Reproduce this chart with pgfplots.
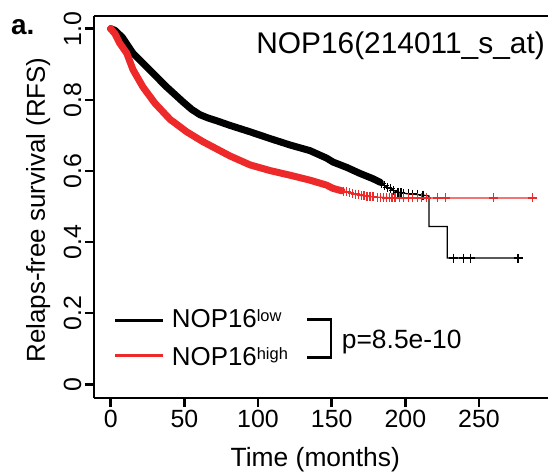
\documentclass[border=0pt]{standalone}
\usepackage{fontspec}
\setmainfont{Liberation Sans}
\usepackage{pgfplots}
\pgfplotsset{compat=1.18}
\definecolor{kmred}{RGB}{237,41,41}
\begin{document}
\begin{tikzpicture}
\useasboundingbox (-94bp,-76bp) rectangle (454bp,398bp);
\begin{axis}[
  at={(0,0)}, anchor=south west,
  scale only axis, width=456bp, height=382bp,
  xmin=-11.34, xmax=298.2, ymin=-0.0385, ymax=1.0357,
  axis x line*=box, axis y line*=left,
  axis line style={line width=2.5bp, -},
  every tick/.style={line width=2.5bp, black},
  major tick length=9bp,
  tick align=outside,
  xtick={0,50,100,150,200,250},
  ytick={0,0.2,0.4,0.6,0.8,1},
  yticklabels={0,0.2,0.4,0.6,0.8,1.0},
  xtick pos=bottom, ytick pos=left,
  /pgf/number format/assume math mode=true,
  tick label style={font=\fontsize{25}{25}\selectfont},
  yticklabel style={rotate=90, anchor=south},
  clip=false,
]
% low (black)
\addplot[black, line width=7bp, line join=round, line cap=round] coordinates {
(0,1.0) (3,0.995) (8,0.975) (15.1,0.931) (26.7,0.883) (38.0,0.836) (49.1,0.794)
(55,0.773) (60.6,0.758) (66,0.749) (72.0,0.741) (81.0,0.728) (94.6,0.710) (108.2,0.691)
(121.7,0.673) (135.3,0.657) (146.6,0.636) (150.9,0.625) (160.2,0.610)
(169.2,0.593) (178.1,0.578) (183,0.568)};
\addplot[black, line width=1.3bp] coordinates {
(183,0.568) (187.4,0.555) (194.2,0.541) (201.0,0.536) (210.0,0.533) (216.1,0.5295)
(216.1,0.444) (228.5,0.444) (228.5,0.355) (279.4,0.355)};
\addplot[black, only marks, mark=+, mark size=4.5bp, mark options={line width=1.2bp}] coordinates {
(184,0.565) (186,0.559) (188,0.553) (190,0.550) (192,0.545) (195,0.540) (197,0.539)
(199,0.537) (202,0.536) (205,0.535) (208,0.534) (212,0.532)
(232.6,0.355) (239.4,0.355) (244.1,0.355) (276.5,0.355)};
% high (red)
\addplot[kmred, line width=7bp, line join=round, line cap=round] coordinates {
(0,1.0) (3,0.985) (6,0.96) (10.9,0.931) (15.1,0.885) (21.9,0.836) (30.1,0.790)
(40.3,0.745) (51.6,0.710) (62.7,0.682) (72.8,0.660) (81.0,0.642) (94.6,0.617)
(108.2,0.601) (121.7,0.588) (135.3,0.574) (146.6,0.560) (150.9,0.551) (157,0.544)};
\addplot[kmred, line width=1.3bp] coordinates {
(157,0.544) (160.2,0.541) (169.2,0.531) (178.1,0.527) (187.4,0.525) (195,0.524) (286.7,0.524)};
\addplot[kmred, only marks, mark=+, mark size=4.5bp, mark options={line width=1.2bp}] coordinates {
(158,0.543) (160,0.541) (162,0.539) (164,0.537) (166,0.535) (168,0.533) (170,0.531)
(172,0.530) (174,0.529) (176,0.528) (178,0.527) (181,0.526) (183,0.526) (185,0.525)
(187,0.524) (189,0.524) (191,0.524) (193,0.524) (196,0.524) (199,0.524) (202,0.524)
(205,0.524) (208,0.524) (211,0.524) (214.5,0.524) (222,0.524) (227.4,0.524)
(259.7,0.524) (286.2,0.524)};
\end{axis}
% axis labels
\node[anchor=base, inner sep=0, font=\fontsize{26.5}{26.5}\selectfont] at (221.3bp,-68.7bp) {Time (months)};
\node[anchor=base, rotate=90, inner sep=0, font=\fontsize{26}{26}\selectfont] at (-49bp,188bp) {Relaps-free survival (RFS)};
\node[anchor=base west, inner sep=0, font=\bfseries\fontsize{28}{28}\selectfont] at (-83bp,363bp) {a.};
\node[anchor=base east, inner sep=0, font=\fontsize{30}{30}\selectfont] at (451bp,344.7bp) {NOP16(214011\_s\_at)};
% legend
\draw[black, line width=3bp] (21bp,77.3bp) -- (69bp,77.3bp);
\draw[kmred, line width=3bp] (21bp,42bp) -- (69bp,42bp);
\node[anchor=base west, inner sep=0, font=\fontsize{26}{26}\selectfont] at (77.7bp,70bp) {NOP16\raisebox{6bp}{\fontsize{16.5}{16.5}\selectfont low}};
\node[anchor=base west, inner sep=0, font=\fontsize{26}{26}\selectfont] at (77.7bp,33bp) {NOP16\raisebox{6bp}{\fontsize{16.5}{16.5}\selectfont high}};
\draw[line width=2.5bp] (213.3bp,78.7bp) -- (237bp,78.7bp) -- (237bp,40.7bp) -- (213.3bp,40.7bp);
\node[anchor=base west, inner sep=0, font=\fontsize{26.5}{26.5}\selectfont] at (247.7bp,49.7bp) {p=8.5e-10};
\end{tikzpicture}
\end{document}
